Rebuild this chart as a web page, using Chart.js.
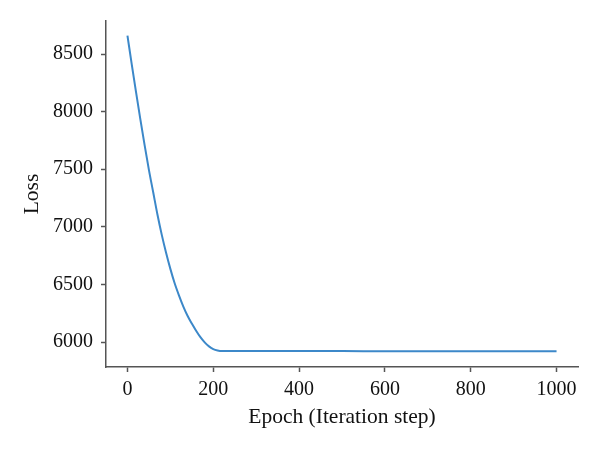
<!DOCTYPE html>
<meta charset="utf-8" />
<title>Loss vs epoch</title>
<script src="https://cdn.jsdelivr.net/npm/chart.js@4/dist/chart.umd.min.js"></script>
<style>
html, body {
	margin: 0;
	padding: 0;
	background: #fff;
}
.wrap {
	position: relative;
	width: 600px;
	height: 452px;
}
</style>

<div class="wrap"><canvas id="chart"></canvas></div>

<script>
// epochs and loss
const epochs = [0, 10, 20, 30, 40, 50, 60, 70, 80, 90, 100, 110, 120, 130, 140, 150, 160, 170, 180, 190, 200, 210, 220, 300, 400, 500, 600, 700, 800, 900, 1000];
const loss = [8660, 8410, 8170, 7935, 7710, 7495, 7300, 7105, 6930, 6775, 6635, 6510, 6405, 6310, 6228, 6160, 6098, 6042, 5997, 5962, 5939, 5927, 5922, 5921, 5921, 5921, 5920, 5920, 5920, 5920, 5920];

const xTicks = [0, 200, 400, 600, 800, 1000];
const yTicks = [6000, 6500, 7000, 7500, 8000, 8500];

const xTitle = 'Epoch (Iteration step)';
const yTitle = 'Loss';

const axisColor = '#555';
const lineColor = '#3c88c9';
const family = "'Liberation Serif', 'DejaVu Serif', serif";
const tickFont = {family: family, size: 20};
const titleFont = {family: family, size: 21.5};

new Chart(document.getElementById('chart'), {
	type: 'line',
	data: {
		datasets: [{
			data: epochs.map((e, i) => ({x: e, y: loss[i]})),
			borderColor: lineColor,
			borderWidth: 2,
			pointRadius: 0,
			cubicInterpolationMode: 'monotone',
			fill: false,
		}]
	},
	options: {
		responsive: true,
		maintainAspectRatio: false,
		animation: false,
		layout: {padding: {top: 21, right: 22, left: 0, bottom: 0}},
		plugins: {
			legend: {display: false},
			tooltip: {enabled: false},
		},
		scales: {
			x: {
				type: 'linear',
				min: -50,
				max: 1050,
				afterBuildTicks: s => { s.ticks = xTicks.map(v => ({value: v})); },
				afterFit: s => { s.height = 85; },
				border: {color: axisColor, width: 1.5},
				grid: {drawOnChartArea: false, drawTicks: true, tickLength: 5, color: axisColor, tickWidth: 1.5},
				ticks: {color: '#111', font: tickFont, padding: 6, maxRotation: 0, callback: v => String(v)},
				title: {display: true, text: xTitle, color: '#111', font: titleFont, padding: {top: 0, bottom: 22}},
			},
			y: {
				type: 'linear',
				min: 5783,
				max: 8787,
				afterBuildTicks: s => { s.ticks = yTicks.map(v => ({value: v})); },
				afterFit: s => { s.width = 106; },
				border: {color: axisColor, width: 1.5},
				grid: {drawOnChartArea: false, drawTicks: true, tickLength: 5, color: axisColor, tickWidth: 1.5},
				ticks: {color: '#111', font: tickFont, padding: 8, callback: v => String(v)},
				title: {display: true, text: yTitle, color: '#111', font: titleFont, padding: {top: 19, bottom: 0}},
			}
		}
	}
});
</script>
